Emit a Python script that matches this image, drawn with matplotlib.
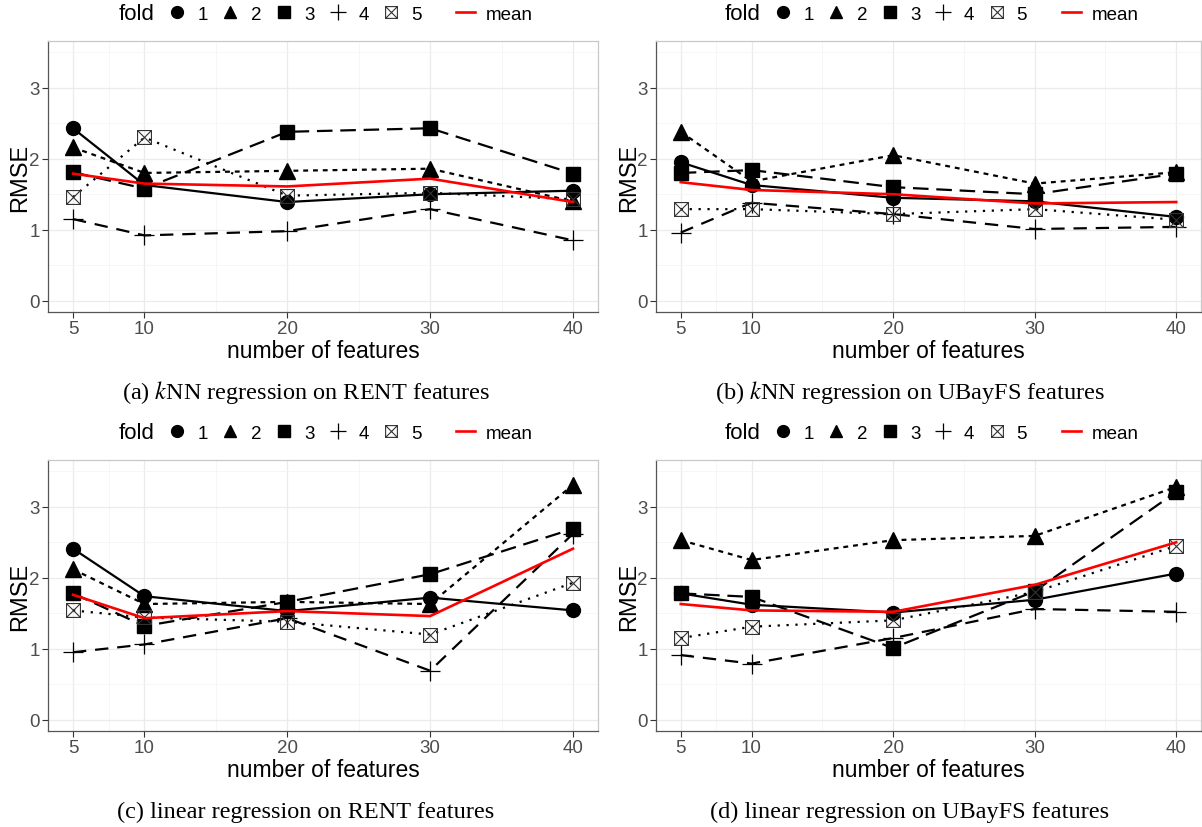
import matplotlib
matplotlib.use("Agg")
import matplotlib.pyplot as plt
from matplotlib.lines import Line2D
from matplotlib.path import Path

plt.rcParams['font.family'] = ['Liberation Sans', 'DejaVu Sans']
plt.rcParams['mathtext.fontset'] = 'stix'

n_features = [5, 10, 20, 30, 40]
fold_labels = ['1', '2', '3', '4', '5']

# RMSE per fold, rows are folds 1..5
knn_rent = [
    [2.43, 1.63, 1.39, 1.50, 1.55],
    [2.16, 1.80, 1.83, 1.86, 1.40],
    [1.81, 1.58, 2.38, 2.43, 1.79],
    [1.15, 0.92, 0.98, 1.29, 0.85],
    [1.46, 2.30, 1.48, 1.52, 1.43],
]
knn_rent_mean = [1.79, 1.65, 1.61, 1.72, 1.39]

knn_ubayfs = [
    [1.95, 1.63, 1.45, 1.40, 1.18],
    [2.38, 1.68, 2.05, 1.65, 1.81],
    [1.80, 1.84, 1.60, 1.50, 1.79],
    [0.96, 1.38, 1.22, 1.01, 1.04],
    [1.29, 1.29, 1.22, 1.29, 1.14],
]
knn_ubayfs_mean = [1.67, 1.56, 1.50, 1.37, 1.39]

lin_rent = [
    [2.41, 1.74, 1.53, 1.72, 1.54],
    [2.12, 1.63, 1.66, 1.63, 3.31],
    [1.78, 1.32, 1.66, 2.05, 2.69],
    [0.95, 1.06, 1.43, 0.69, 2.62],
    [1.54, 1.44, 1.38, 1.20, 1.93],
]
lin_rent_mean = [1.76, 1.43, 1.53, 1.46, 2.41]

lin_ubayfs = [
    [1.78, 1.62, 1.51, 1.69, 2.06],
    [2.53, 2.25, 2.53, 2.59, 3.28],
    [1.78, 1.73, 1.01, 1.81, 3.21],
    [0.91, 0.79, 1.15, 1.56, 1.52],
    [1.15, 1.31, 1.40, 1.80, 2.45],
]
lin_ubayfs_mean = [1.63, 1.54, 1.52, 1.90, 2.50]

captions = [
    r'(a) $k$NN regression on RENT features',
    r'(b) $k$NN regression on UBayFS features',
    '(c) linear regression on RENT features',
    '(d) linear regression on UBayFS features',
]

# square with a cross, like R shape 7
boxx = Path(
    [(-1, -1), (1, -1), (1, 1), (-1, 1), (-1, -1),
     (-1, -1), (1, 1), (-1, 1), (1, -1)],
    [Path.MOVETO, Path.LINETO, Path.LINETO, Path.LINETO, Path.CLOSEPOLY,
     Path.MOVETO, Path.LINETO, Path.MOVETO, Path.LINETO])

markers = ['o', '^', 's', '+', boxx]
msizes = [10, 11, 10, 14, 10]
dashes = ['-', (0, (2.2, 2.2)), (0, (7, 3.5)), (0, (6, 4)), (0, (1, 3))]

W, H = 1202, 828
fig = plt.figure(figsize=(W / 100, H / 100), dpi=100)

# axes rects in pixels: left, top, right, bottom
rects = [(48, 42, 598, 313), (656, 42, 1201, 313),
         (48, 461, 598, 732), (656, 461, 1201, 732)]
caption_x = [306, 910, 306, 910]
panels = [(knn_rent, knn_rent_mean), (knn_ubayfs, knn_ubayfs_mean),
          (lin_rent, lin_rent_mean), (lin_ubayfs, lin_ubayfs_mean)]


def fold_style(i, scale=1.0):
    m = markers[i]
    ms = msizes[i] * scale
    if i == 3:
        return dict(marker=m, markersize=ms, markeredgewidth=0.9,
                    color='black')
    if i == 4:
        return dict(marker=m, markersize=ms, markeredgewidth=0.8,
                    markerfacecolor='none', markeredgecolor='#333333',
                    color='black')
    return dict(marker=m, markersize=ms, color='black')


for k, ((l, t, r, b), (folds, mean)) in enumerate(zip(rects, panels)):
    ax = fig.add_axes([l / W, 1 - b / H, (r - l) / W, (b - t) / H])

    for i, vals in enumerate(folds):
        ax.plot(n_features, vals, linestyle=dashes[i], linewidth=1.6,
                **fold_style(i))
    ax.plot(n_features, mean, color='#FF0000', linewidth=1.9)

    ax.set_xlim(3.25, 41.75)
    ax.set_ylim(-0.16, 3.66)
    ax.set_xticks(n_features)
    ax.set_xticks([7.5, 15, 25, 35], minor=True)
    ax.set_yticks([0, 1, 2, 3])
    ax.set_yticks([0.5, 1.5, 2.5, 3.5], minor=True)
    ax.grid(which='major', color='#EBEBEB', linewidth=0.9)
    ax.grid(which='minor', color='#F5F5F5', linewidth=0.6)
    ax.set_axisbelow(True)
    ax.tick_params(which='major', length=4, width=0.8, color='#333333',
                   labelsize=13.5, labelcolor='#4D4D4D', pad=2)
    ax.tick_params(which='minor', length=0)
    for s in ['top', 'right']:
        ax.spines[s].set_color('#C8C8C8')
    for s in ['left', 'bottom']:
        ax.spines[s].set_color('#555555')
    for s in ax.spines.values():
        s.set_linewidth(0.9)

    ax.set_xlabel('number of features', fontsize=16.5, labelpad=1)
    ax.set_ylabel('RMSE', fontsize=17)
    ax.yaxis.set_label_coords(-0.03, 0.5)

    handles = [Line2D([], [], linestyle='none')]
    for i in range(5):
        handles.append(Line2D([], [], linestyle='none', **fold_style(i, 0.85)))
    handles.append(Line2D([], [], color='#FF0000', linewidth=1.9))
    labels = ['fold'] + fold_labels[:-1] + [fold_labels[-1] + '    ', 'mean']
    leg = ax.legend(handles, labels, loc='lower center',
                    bbox_to_anchor=(0.478, 1.036), ncol=len(labels),
                    frameon=False, fontsize=13.5, handlelength=1.0,
                    handletextpad=0.6, columnspacing=0.7, borderaxespad=0)
    leg.get_texts()[0].set_fontsize(16)

    cy = 1 - (b + 80) / H
    fig.text(caption_x[k] / W, cy, captions[k], ha='center', va='center',
             fontsize=17.5, family='Liberation Serif')

fig.savefig('out.png', dpi=100)
